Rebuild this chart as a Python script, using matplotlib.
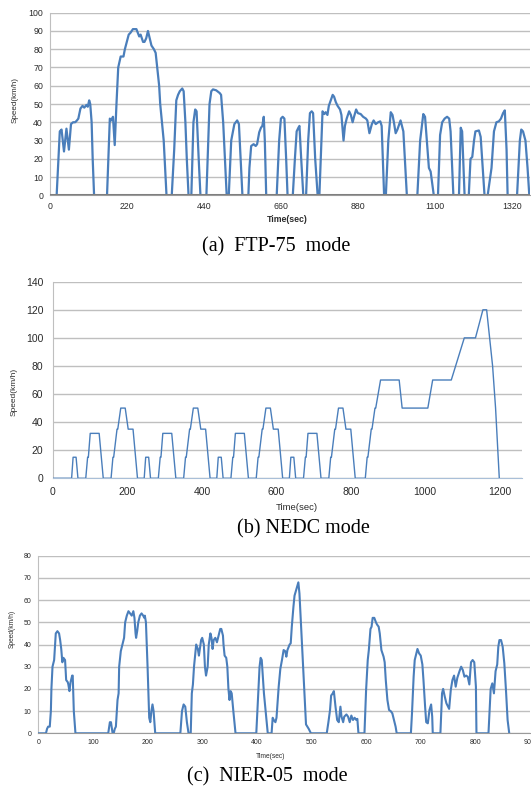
import matplotlib
matplotlib.use('Agg')
import matplotlib.pyplot as plt

# (a) FTP-75 speed trace (sec, km/h)
ftp_time = [0, 19, 28, 33, 40, 47, 54, 60, 66, 72, 77, 81, 87, 93, 98, 104, 108, 112, 115, 119,
            122, 126, 163, 171, 175, 180, 185, 190, 195, 202, 210, 214, 225, 230, 237, 247, 255,
            259, 266, 270, 275, 280, 285, 290, 297, 302, 312, 315, 325, 333, 348, 355, 361, 366,
            371, 378, 382, 387, 391, 396, 404, 410, 415, 419, 425, 430, 447, 456, 461, 466, 475,
            485, 489, 495, 500, 505, 511, 518, 527, 535, 540, 545, 550, 567, 570, 575, 582, 588,
            592, 598, 603, 607, 611, 614, 618, 648, 655, 660, 665, 670, 675, 679, 694, 700, 705,
            710, 713, 718, 724, 732, 738, 743, 748, 752, 758, 765, 770, 779, 784, 788, 793, 797,
            808, 812, 817, 822, 829, 833, 839, 843, 848, 855, 860, 865, 869, 875, 880, 888, 895,
            903, 907, 913, 920, 925, 931, 938, 944, 948, 955, 960, 967, 974, 979, 983, 988, 993,
            1002, 1006, 1010, 1020, 1050, 1058, 1067, 1072, 1077, 1083, 1088, 1097, 1109, 1115,
            1121, 1128, 1135, 1141, 1145, 1153, 1169, 1174, 1178, 1185, 1197, 1202, 1207, 1212,
            1216, 1226, 1231, 1237, 1242, 1251, 1257, 1262, 1269, 1276, 1283, 1289, 1295, 1300,
            1305, 1308, 1335, 1343, 1347, 1352, 1359, 1365, 1370]
ftp_speed = [0, 0, 35, 36, 24, 36.5, 25, 39, 40, 40, 41, 42, 47.5, 49, 48, 49.5, 48.5, 52, 50, 40,
             20, 0, 0, 42, 41, 43, 27.5, 50, 70, 76, 76, 80, 88, 89, 91, 91, 87,
             88, 84, 84, 86, 90, 86, 82, 80, 78, 60, 50, 30, 0, 0, 25, 52, 55,
             57, 58.5, 57, 40, 20, 0, 0, 40, 47, 46, 20, 0, 0, 50, 57, 58, 57.5,
             56, 55, 40, 20, 0, 0, 30, 39, 41, 39, 20, 0, 0, 15, 27, 28, 27,
             28, 34.5, 37, 38, 43, 30, 0, 0, 30, 42, 43, 42, 20, 0, 0, 20, 35,
             37, 38, 20, 0, 0, 30, 45, 46, 45, 20, 0, 0, 46, 44.5, 45.5, 44, 49,
             55, 54, 51, 49, 47, 44, 30, 38, 42, 46, 44, 40, 43, 47, 45, 44.5, 43,
             42, 41, 34, 39, 41, 39, 40, 40.5, 38, 0, 0, 30, 45.5, 44, 40, 34, 36,
             41, 38, 35, 0, 0, 30, 44.5, 43, 30, 15, 13, 0, 0, 33,
             40, 42, 43, 42, 35, 0, 0, 37, 35, 0, 0, 20, 21, 30,
             35, 35.5, 32, 15, 0, 0, 8, 15, 35, 40, 40.5, 42, 45, 46.5,
             25, 0, 0, 30, 36, 35, 30, 15, 0]

# (b) NEDC speed trace (sec, km/h)
nedc_time = [0, 50, 54, 62, 67, 88, 93, 95, 100, 124, 135, 156, 161, 163, 172, 174, 182, 194, 202, 215, 227,
             245, 249, 257, 262, 283, 288, 290, 295, 319, 330, 351, 356, 358, 367, 369, 377, 389, 397, 410, 422,
             440, 444, 452, 457, 478, 483, 485, 490, 514, 525, 546, 551, 553, 562, 564, 572, 584, 592, 605, 617,
             635, 639, 647, 652, 673, 678, 680, 685, 709, 720, 741, 746, 748, 757, 759, 767, 779, 787, 800, 812,
             839, 844, 846, 855, 857, 865, 867, 880, 930, 938, 1007, 1020, 1070, 1105, 1135, 1155, 1165,
             1181, 1189, 1199]
nedc_speed = [0, 0, 15, 15, 0, 0, 15, 15, 32, 32, 0, 0, 15, 15, 35, 35, 50, 50, 35, 35, 0,
              0, 15, 15, 0, 0, 15, 15, 32, 32, 0, 0, 15, 15, 35, 35, 50, 50, 35, 35, 0,
              0, 15, 15, 0, 0, 15, 15, 32, 32, 0, 0, 15, 15, 35, 35, 50, 50, 35, 35, 0,
              0, 15, 15, 0, 0, 15, 15, 32, 32, 0, 0, 15, 15, 35, 35, 50, 50, 35, 35, 0,
              0, 15, 15, 35, 35, 50, 50, 70, 70, 50, 50, 70, 70, 100, 100, 120, 120,
              80, 50, 0]

# (c) NIER-05 speed trace (sec, km/h)
nier_time = [0, 14, 16, 18, 21, 23, 24, 26, 29, 32, 35, 38, 40, 42, 43, 44, 46, 49, 51, 54, 55, 57,
             59, 62, 63, 65, 68, 128, 131, 133, 136, 138, 140, 142, 145, 147, 148, 151, 154, 157,
             159, 162, 165, 168, 171, 174, 176, 178, 179, 181, 183, 186, 189, 192, 194, 195, 197,
             200, 202, 203, 205, 207, 209, 211, 214, 260, 263, 266, 269, 272, 275, 279, 281, 283,
             285, 287, 289, 292, 294, 297, 298, 300, 303, 305, 307, 310, 312, 315, 317, 319, 321,
             324, 327, 330, 333, 335, 338, 339, 341, 344, 346, 348, 350, 352, 354, 357, 361, 399,
             400, 403, 405, 407, 409, 413, 417, 420, 427, 429, 431, 434, 436, 440, 443, 446, 449,
             452, 454, 456, 460, 462, 464, 467, 469, 472, 475, 476, 478, 481, 485, 488, 490, 495,
             499, 528, 531, 534, 536, 539, 541, 544, 547, 550, 553, 555, 558, 560, 564, 567, 570,
             573, 576, 579, 582, 584, 586, 597, 600, 603, 605, 608, 610, 612, 615, 618, 620, 623,
             625, 628, 632, 634, 636, 639, 642, 645, 648, 651, 654, 656, 682, 684, 687, 689, 691,
             694, 697, 700, 703, 705, 708, 710, 713, 716, 719, 721, 722, 736, 739, 741, 744, 747,
             752, 755, 758, 761, 764, 767, 771, 774, 777, 780, 783, 786, 789, 792, 795, 798, 801,
             802, 824, 828, 831, 834, 837, 840, 842, 844, 847, 850, 853, 856, 859, 862]
nier_speed = [0, 0, 2, 3, 3, 10, 20, 30, 33, 45, 46, 45, 42, 38, 35, 32, 34, 33, 24, 23, 22, 19,
              23, 26, 26, 10, 0, 0, 5, 5, 0, 0, 2, 3, 15, 18, 30, 37, 40, 43,
              50, 53, 55, 54, 53, 55, 52, 45, 43, 46, 50, 53, 54, 53, 52, 53, 50,
              30, 15, 7, 5, 10, 13, 10, 0, 0, 10, 13, 12, 5, 0, 0, 18, 22,
              30, 35, 40, 38, 35, 40, 42, 43, 40, 30, 26, 30, 40, 45, 43, 38, 42,
              43, 41, 44, 47, 47, 44, 40, 35, 34, 30, 20, 15, 19, 18, 10, 0, 0,
              5, 20, 30, 34, 33, 18, 7.5, 0, 0, 7, 6, 5, 7, 21, 29, 33, 37.5,
              37, 34.5, 37.5, 40, 40.5, 48, 57, 62, 64.5, 67, 68, 63, 48, 27, 12, 4, 2,
              0, 0, 5, 10.5, 17, 18, 19, 12, 6, 5, 12, 7.5, 5, 7.5, 8.5, 7.5, 5,
              8, 6, 7, 6, 6.5, 0, 0, 19.5, 33, 37.5, 47, 48, 52, 52, 50, 49, 48,
              45, 37.5, 34.5, 32, 24, 15, 10.5, 10, 9, 6, 3, 0, 0, 9, 25.5, 33, 35,
              38, 36, 35, 31, 24, 12, 5, 4.5, 10.5, 13, 7.5, 0, 0, 18, 20, 16.5, 13.5,
              11, 19.5, 24, 26, 21, 25, 28, 30, 28.5, 25.5, 26, 25.5, 22, 32, 33, 32, 21,
              0, 0, 20, 22.5, 18, 28, 31, 39, 42, 42, 39, 31.5, 19.5, 6, 0]

LINE_BLUE = '#4a7ebb'
GRID = '#bfbfbf'
SANS = ['Liberation Sans', 'DejaVu Sans']
SERIF = ['Liberation Serif', 'DejaVu Serif']
W, H = 531, 791


def fx(px):
    return px / W


def fy(py):
    return 1 - py / H


def setup_axes(ax, xmax, ymax, xticks, yticks, tick_size, pad_x, pad_y):
    """Excel-like look: horizontal grid, no ticks, light left axis."""
    ax.set_xlim(0, xmax)
    ax.set_ylim(0, ymax)
    ax.set_xticks(xticks)
    ax.set_yticks(yticks)
    ax.grid(True, axis='y', color=GRID, linewidth=1.0)
    ax.set_axisbelow(True)
    for side in ['top', 'right']:
        ax.spines[side].set_visible(False)
    ax.spines['left'].set_color('#bfbfbf')
    ax.spines['bottom'].set_color('#9a9a9a')
    ax.tick_params(axis='both', length=0, labelsize=tick_size, colors='#2b2b2b')
    ax.tick_params(axis='x', pad=pad_x)
    ax.tick_params(axis='y', pad=pad_y)
    for lab in ax.get_xticklabels() + ax.get_yticklabels():
        lab.set_family(SANS)


fig = plt.figure(figsize=(5.31, 7.91), dpi=100)

# (a) FTP-75
ax_a = fig.add_axes([fx(50), fy(195.3), fx(480), 182.6 / H])
ax_a.plot(ftp_time, ftp_speed, color=LINE_BLUE, linewidth=1.6, zorder=2)
setup_axes(ax_a, 1372, 100, range(0, 1372, 220), range(0, 101, 10), 6.3, 5, 5)
ax_a.axhline(0, color='#7f7f7f', linewidth=2.2, zorder=3)
fig.text(fx(15), fy(100), 'Speed(km/h)', rotation=90, ha='center', va='center',
         fontsize=5.8, family=SANS, color='#2b2b2b')
fig.text(fx(287), fy(220), 'Time(sec)', ha='center', va='center',
         fontsize=6.3, family=SANS, weight='bold', color='#2b2b2b')
fig.text(fx(276), fy(247), '(a)  FTP-75  mode', ha='center', va='center',
         fontsize=14.5, family=SERIF)

# (b) NEDC
ax_b = fig.add_axes([fx(53), fy(478.3), fx(469), 196.6 / H])
ax_b.plot(nedc_time, nedc_speed, color=LINE_BLUE, linewidth=1.0, zorder=3)
setup_axes(ax_b, 1260, 140, range(0, 1201, 200), range(0, 141, 20), 7.5, 6, 7)
ax_b.spines['bottom'].set_color('#a9bfd8')
fig.text(fx(14), fy(392), 'Speed(km/h)', rotation=90, ha='center', va='center',
         fontsize=6, family=SANS, color='#2b2b2b')
fig.text(fx(297), fy(508), 'Time(sec)', ha='center', va='center',
         fontsize=6.8, family=SANS, color='#2b2b2b')
fig.text(fx(303), fy(529), '(b) NEDC mode', ha='center', va='center',
         fontsize=14.5, family=SERIF)

# (c) NIER-05
ax_c = fig.add_axes([fx(38.3), fy(733.3), fx(491.7), 177.6 / H])
ax_c.plot(nier_time, nier_speed, color=LINE_BLUE, linewidth=1.5, zorder=3)
setup_axes(ax_c, 900, 80, range(0, 901, 100), range(0, 81, 10), 5, 4, 5)
fig.text(fx(12), fy(629), 'Speed(km/h)', rotation=90, ha='center', va='center',
         fontsize=4.8, family=SANS, color='#2b2b2b')
fig.text(fx(270), fy(757), 'Time(sec)', ha='center', va='center',
         fontsize=4.8, family=SANS, color='#2b2b2b')
fig.text(fx(267), fy(777), '(c)  NIER-05  mode', ha='center', va='center',
         fontsize=14.5, family=SERIF)

fig.savefig('out.png', dpi=100)
